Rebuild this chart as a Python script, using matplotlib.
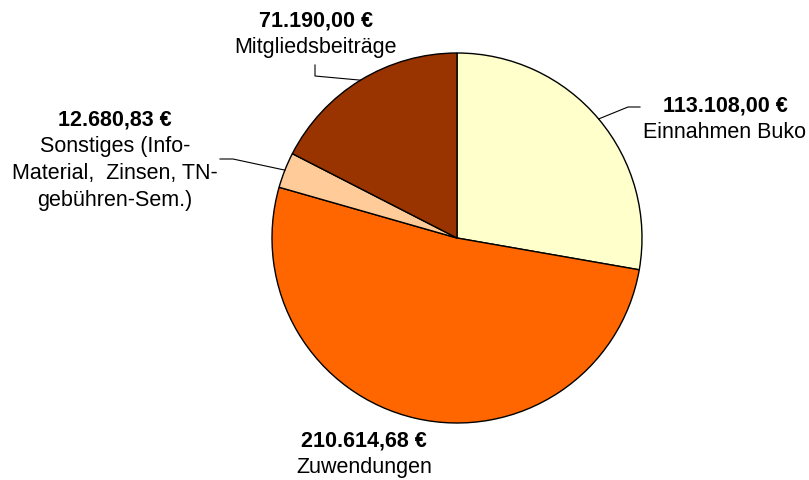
import numpy as np
import matplotlib.pyplot as plt

plt.rcParams['font.family'] = ['Liberation Sans', 'DejaVu Sans']

names = ['Einnahmen Buko', 'Zuwendungen', 'Sonstiges (Info-\nMaterial,  Zinsen, TN-\ngebühren-Sem.)', 'Mitgliedsbeiträge']
values = [113108.00, 210614.68, 12680.83, 71190.00]
colors = ['#FFFFCC', '#FF6600', '#FFCC99', '#993300']

# label centre x / top line y (pixel coords from top-left) and leader line elbows
label_x = [725, 364, 115, 316]
label_y = [106, 441, 120, 21]
elbows = [[(628, 107), (640, 107)], None, [(233, 159), (220, 159)], [(315, 76), (315, 65)]]

W, H = 809, 480
fig = plt.figure(figsize=(W / 100, H / 100), dpi=100)
ax = fig.add_axes([0, 0, 1, 1])

cx, cy, r = 457, H - 238, 185
wedges, _ = ax.pie(values, colors=colors, startangle=90, counterclock=False,
                   center=(cx, cy), radius=r, frame=True,
                   wedgeprops=dict(edgecolor='black', linewidth=1))
ax.set_xlim(0, W)
ax.set_ylim(0, H)
ax.set_aspect('equal')
ax.axis('off')


def fmt(v):
    s = f'{v:,.2f}'.replace(',', 'X').replace('.', ',').replace('X', '.')
    return s + ' €'


for w, name, v, lx, ly, el in zip(wedges, names, values, label_x, label_y, elbows):
    ax.text(lx, H - ly, fmt(v), ha='center', va='center', fontsize=15.5, fontweight='bold')
    for i, line in enumerate(name.split('\n')):
        ax.text(lx, H - ly - 26.8 * (i + 1), line, ha='center', va='center', fontsize=15.5)
    if el is not None:
        mid = np.deg2rad((w.theta1 + w.theta2) / 2)
        px, py = cx + r * np.cos(mid), cy + r * np.sin(mid)
        xs = [px] + [e[0] for e in el]
        ys = [py] + [H - e[1] for e in el]
        ax.plot(xs, ys, color='black', linewidth=0.8)

fig.savefig('out.png', dpi=100)
